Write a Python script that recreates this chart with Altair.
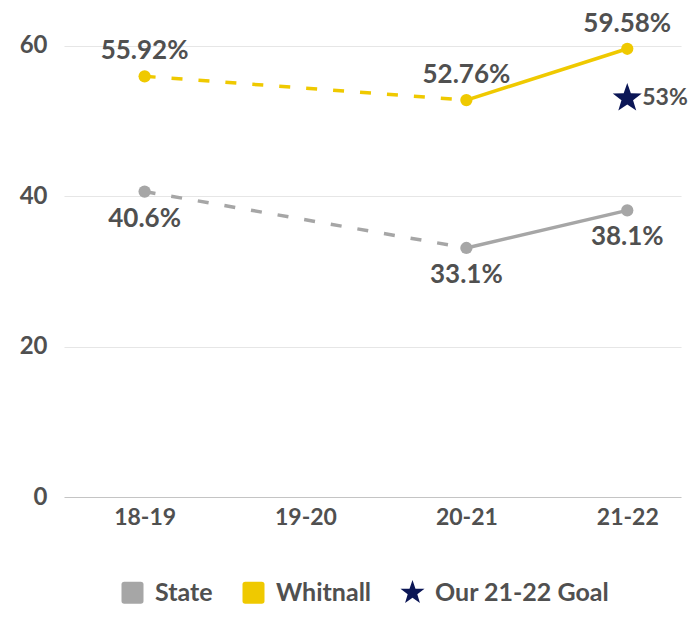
import math
import altair as alt
import pandas as pd

# ---------------- data ----------------
years = ["18-19", "19-20", "20-21", "21-22"]
data_years = ["18-19", "20-21", "21-22"]
whitnall_values = [55.92, 52.76, 59.58]
state_values = [40.6, 33.1, 38.1]
goal_year = "21-22"
goal_value = 53
series_names = ["State", "Whitnall", "Our 21-22 Goal"]
y_ticks = [0, 20, 40, 60]

# ---------------- styles ----------------
GRAY = "#a6a6a6"
YELLOW = "#efc900"
NAVY = "#0b1656"
TEXT = "#505050"
FONT = "Lato"
COLORS = {"State": GRAY, "Whitnall": YELLOW, "Our 21-22 Goal": NAVY}


def star_path(scale=1.0, inner=0.4):
    pts = []
    for i in range(10):
        r = scale if i % 2 == 0 else scale * inner
        a = math.radians(-90 + 36 * i)
        pts.append(f"{r * math.cos(a):.4f},{r * math.sin(a):.4f}")
    return "M" + " L".join(pts) + " Z"


ROUND_SQ = ("M -0.75 -1 L 0.75 -1 Q 1 -1 1 -0.75 L 1 0.75 Q 1 1 0.75 1 "
            "L -0.75 1 Q -1 1 -1 0.75 L -1 -0.75 Q -1 -1 -0.75 -1 Z")

# ---------------- tables ----------------
def series_table(name, vals):
    return pd.DataFrame({"series": name, "year": data_years, "value": vals,
                         "label": [f"{v}%" for v in vals]})


state_df = series_table("State", state_values)
whit_df = series_table("Whitnall", whitnall_values)
goal_df = pd.DataFrame({"series": ["Our 21-22 Goal"], "year": [goal_year], "value": [goal_value],
                        "label": [f"{goal_value}%"]})
legend_df = pd.DataFrame({"series": series_names})

# ---------------- scales ----------------
x_scale = alt.Scale(type="point", domain=years, padding=0.4175, align=0.6)
y_scale = alt.Scale(domain=[0, 65], nice=False)

x_enc = alt.X("year:N", scale=x_scale, sort=years,
              axis=alt.Axis(title=None, domain=False, ticks=False, labelAngle=0,
                            labelPadding=9, labelFontSize=23, labelFont=FONT,
                            labelFontWeight="bold", labelColor=TEXT, grid=False))
y_enc = alt.Y("value:Q", scale=y_scale,
              axis=alt.Axis(title=None, values=y_ticks, domain=False, ticks=False,
                            labelPadding=17, labelFontSize=24, labelFont=FONT,
                            labelFontWeight="bold", labelColor=TEXT, minExtent=56,
                            grid=True,
                            gridColor={"condition": {"test": "datum.value === 0", "value": "#c4c4c4"},
                                       "value": "#e6e6e6"},
                            gridWidth=1.2))

base_x = alt.X("year:N", scale=x_scale, sort=years)
base_y = alt.Y("value:Q", scale=y_scale)

text_common = dict(font=FONT, fontWeight="bold", fontSize=26, color=TEXT, baseline="middle")

layers = []
for i, (df, name, dy) in enumerate([(state_df, "State", 27), (whit_df, "Whitnall", -25)]):
    col = COLORS[name]
    dashed = alt.Chart(df).transform_filter(
        alt.FieldOneOfPredicate(field="year", oneOf=data_years[:2])
    ).mark_line(strokeWidth=3.5, color=col, strokeDash=[11, 16]).encode(
        x=x_enc if i == 0 else base_x, y=y_enc if i == 0 else base_y)
    solid = alt.Chart(df).transform_filter(
        alt.FieldOneOfPredicate(field="year", oneOf=data_years[1:])
    ).mark_line(strokeWidth=3.5, color=col).encode(x=base_x, y=base_y)
    pts = alt.Chart(df).mark_point(filled=True, size=150, opacity=1, color=col).encode(
        x=base_x, y=base_y)
    txt = alt.Chart(df).mark_text(dy=dy, align="center", **text_common).encode(
        x=base_x, y=base_y, text="label:N")
    layers += [dashed, solid, pts, txt]

goal_pt = alt.Chart(goal_df).mark_point(filled=True, opacity=1, shape=star_path(1.0), size=930,
                                        color=NAVY).encode(x=base_x, y=base_y)
goal_text = alt.Chart(goal_df).mark_text(
    dx=15, align="left", font=FONT, fontWeight="bold", fontSize=23, color=TEXT, baseline="middle"
).encode(x=base_x, y=base_y, text="label:N")
layers += [goal_pt, goal_text]

leg = alt.Legend(title=None, orient="none", direction="horizontal",
                 legendX=56, legendY=572, symbolSize=484,
                 labelFont=FONT, labelFontWeight="bold", labelFontSize=25,
                 labelColor=TEXT, labelOffset=10, columnPadding=28, labelLimit=400)

legend_layer = alt.Chart(legend_df).transform_filter("false").mark_point(filled=True, opacity=1).encode(
    color=alt.Color("series:N", scale=alt.Scale(domain=series_names,
                                                range=[COLORS[s] for s in series_names]),
                    legend=leg),
    shape=alt.Shape("series:N", scale=alt.Scale(domain=series_names,
                                                range=[ROUND_SQ, ROUND_SQ, star_path(1.15)]),
                    legend=leg),
)
layers.append(legend_layer)

chart = alt.layer(*layers).properties(
    width=617, height=489, padding=0, background="white"
).configure_view(stroke=None)

chart.save("out.html", embed_options={"renderer": "svg", "actions": False})
